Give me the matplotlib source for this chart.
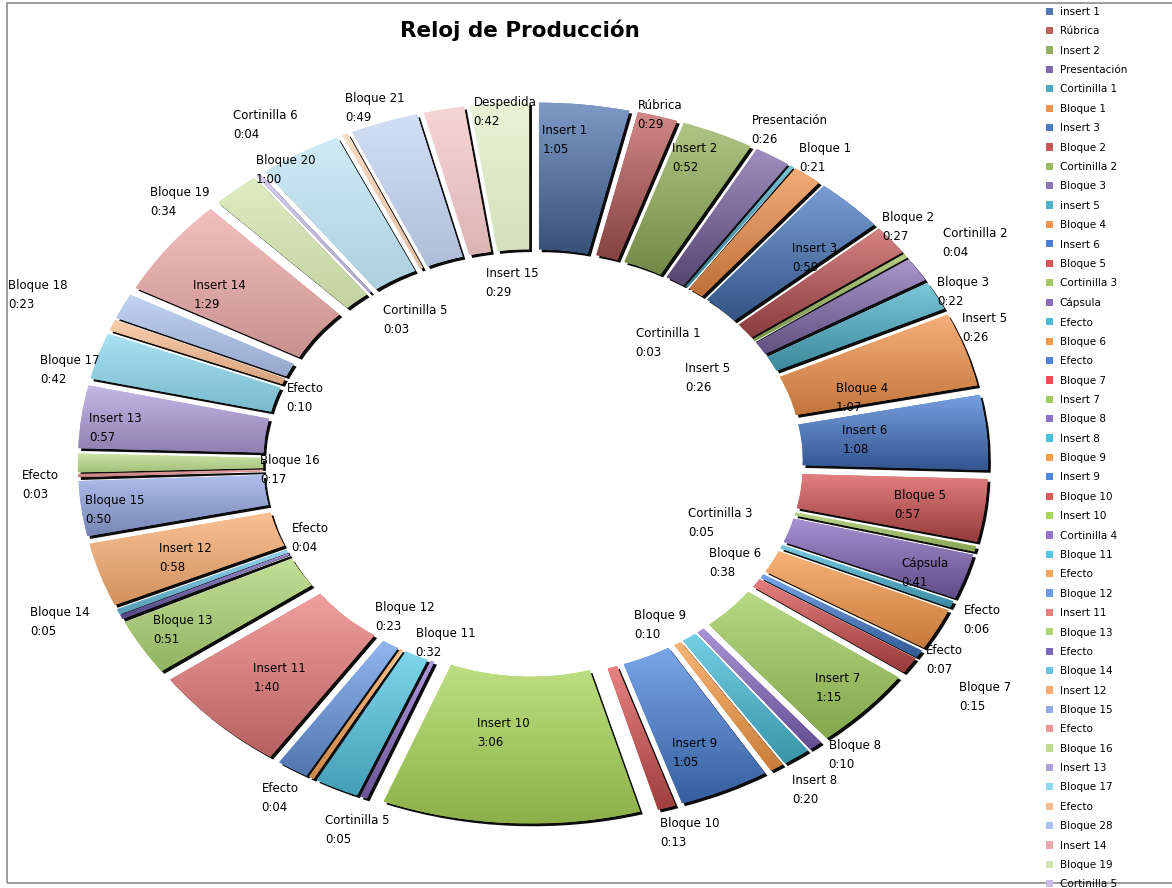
import numpy as np
import matplotlib
matplotlib.use("Agg")
import matplotlib.pyplot as plt
from matplotlib.patches import Patch, Rectangle
from matplotlib import patheffects
from matplotlib.colors import to_rgb

# segment names as printed on the data labels
label_names = ["Insert 1", "Rúbrica", "Insert 2", "Presentación", "Cortinilla 1",
               "Bloque 1", "Insert 3", "Bloque 2", "Cortinilla 2", "Bloque 3",
               "Insert 5", "Bloque 4", "Insert 6", "Bloque 5", "Cortinilla 3",
               "Cápsula", "Efecto", "Bloque 6", "Efecto", "Bloque 7",
               "Insert 7", "Bloque 8", "Insert 8", "Bloque 9", "Insert 9",
               "Bloque 10", "Insert 10", "Cortinilla 5", "Bloque 11", "Efecto",
               "Bloque 12", "Insert 11", "Bloque 13", "Efecto", "Bloque 14",
               "Insert 12", "Bloque 15", "Efecto", "Bloque 16", "Insert 13",
               "Bloque 17", "Efecto", "Bloque 18", "Insert 14", "Bloque 19",
               "Cortinilla 5", "Bloque 20", "Cortinilla 6", "Bloque 21", "Insert 15",
               "Despedida"]

# names as they appear in the legend
legend_names = ["insert 1", "Rúbrica", "Insert 2", "Presentación", "Cortinilla 1",
                "Bloque 1", "Insert 3", "Bloque 2", "Cortinilla 2", "Bloque 3",
                "insert 5", "Bloque 4", "Insert 6", "Bloque 5", "Cortinilla 3",
                "Cápsula", "Efecto", "Bloque 6", "Efecto", "Bloque 7",
                "Insert 7", "Bloque 8", "Insert 8", "Bloque 9", "Insert 9",
                "Bloque 10", "Insert 10", "Cortinilla 4", "Bloque 11", "Efecto",
                "Bloque 12", "Insert 11", "Bloque 13", "Efecto", "Bloque 14",
                "Insert 12", "Bloque 15", "Efecto", "Bloque 16", "Insert 13",
                "Bloque 17", "Efecto", "Bloque 28", "Insert 14", "Bloque 19",
                "Cortinilla 5", "Bloque 20", "Cortinilla 6", "Bloque 21", "Insert 15",
                "Despedida"]

# durations in seconds
seconds = [65, 29, 52, 26, 3, 21, 50, 27, 4, 22,
           26, 67, 68, 57, 5, 41, 6, 38, 7, 15,
           75, 10, 20, 10, 65, 13, 186, 5, 32, 4,
           23, 100, 51, 4, 5, 58, 50, 3, 17, 57,
           42, 10, 23, 89, 34, 3, 60, 4, 49, 29,
           42]

colors = ["#5478B4", "#C0605E", "#94B25A", "#8068A8", "#4AAAC4", "#F0904A",
          "#4C7CC4", "#C8585A", "#9ABA5C", "#8A74B8", "#4EB4CC", "#F4944C",
          "#4A7ED4", "#D85456", "#A4C864", "#8A6CC4", "#4CB8D8", "#F6984A",
          "#4A84DC", "#DC5454", "#A0CC5C", "#8C70CC", "#48C0DC", "#F89C48",
          "#4C88E2", "#E05858", "#A8D458", "#9476D0", "#54C8E6", "#F8A458",
          "#6C9CE8", "#EC7E7E", "#AED474", "#7A68C0", "#6CC4E4", "#F8AC70",
          "#94A8E4", "#EE9494", "#BCDC8C", "#B0A0DC", "#8CD8EE", "#F8BC90",
          "#AEC4EE", "#EEAAAA", "#D4E6AE", "#C8BCE6", "#BEE4F4", "#F8D0B0",
          "#C4D4F2", "#F4C8C8", "#E2EEC8"]

# label placement: distance from centre (pie units) and angle nudge (deg)
lab_r = [1.016, 1.136, 1.037, 1.223, 0.504, 1.20, 0.950, 1.189, 1.296, 1.194,
         1.199, 0.841, 0.827, 0.969, 0.501, 1.032, 1.218, 0.591, 1.194, 1.340,
         1.034, 1.215, 1.241, 0.598, 0.994, 1.224, 0.849, 1.230, 0.605, 1.223,
         0.578, 0.921, 1.014, 0.601, 1.275, 0.913, 1.048, 1.225, 0.603, 1.043,
         1.185, 0.601, 1.337, 0.939, 1.199, 0.535, 1.105, 1.251, 1.180, 0.567,
         1.102]
lab_da = [-2.0, 0.2, -1.2, -0.4, 7.0, 0.1, 3.3, -0.3, 2.9, 5.8,
          7.0, 4.4, 0.0, 0.2, 8.2, 1.1, 0.7, 4.5, -0.8, -1.0,
          -0.2, -2.7, 1.1, 0.6, 1.0, -1.5, 2.2, -1.1, -4.5, 1.7,
          1.5, -1.1, -0.3, 2.3, 1.4, -1.0, -0.8, -1.2, -2.1, -1.4,
          -3.1, -2.7, -2.6, -2.9, -6.2, 3.9, -3.0, -7.7, -0.3, 6.0,
          0.6]
# Insert 5 is labelled twice in the original
extra_labels = [(10, 0.509, -3.8)]


def fmt(s):
    return "{}:{:02d}".format(s // 60, s % 60)


fig = plt.figure(figsize=(11.72, 8.88), dpi=100)
ax = fig.add_axes([0, 0, 1, 1])

wedges, _ = ax.pie(seconds, colors=colors, startangle=90, counterclock=False,
                   explode=[0.13] * len(seconds), radius=1.0,
                   wedgeprops=dict(width=0.46, linewidth=0))

for w, c in zip(wedges, colors):
    w.set_path_effects([patheffects.SimplePatchShadow(offset=(2, -2), shadow_rgbFace="black", alpha=0.95),
                        patheffects.Normal()])
    rgb = np.array(to_rgb(c))
    lum = rgb @ np.array([0.3, 0.59, 0.11])
    top = rgb + (1 - rgb) * 0.25
    bot = rgb * (1 - 0.6 * (1 - lum))
    grad = np.linspace(top, bot, 64)[:, None, :]
    ext = w.get_path().get_extents()
    im = ax.imshow(grad, extent=[ext.x0, ext.x1, ext.y0, ext.y1], aspect="auto",
                   interpolation="bilinear", zorder=3)
    im.set_clip_path(w)

ax.set_aspect("auto")
ax.set_xlim(-1.323, 1.586)
ax.set_ylim(-1.332, 1.451)
ax.axis("off")

mid = (np.cumsum(seconds) - np.array(seconds) / 2) / sum(seconds) * 360
placements = [(i, lab_r[i], lab_da[i]) for i in range(len(seconds))] + extra_labels
for i, r, da in placements:
    phi = np.radians(mid[i] + da)
    ax.text(r * np.sin(phi), r * np.cos(phi), label_names[i] + "\n" + fmt(seconds[i]),
            ha="center", va="center", multialignment="left", fontsize=8.5,
            linespacing=1.6, zorder=5)

fig.text(520 / 1172, 1 - 30 / 888, "Reloj de Producción", ha="center", va="center",
         fontsize=15.5, fontweight="bold")

handles = [Patch(facecolor=c, edgecolor="none") for c in colors]
fig.legend(handles, legend_names, loc="upper left", bbox_to_anchor=(1046 / 1172, 1 - 7 / 888),
           frameon=False, fontsize=7.5, handlelength=0.7, handleheight=0.7,
           handletextpad=0.6, labelspacing=0.9, borderpad=0, borderaxespad=0)

fig.add_artist(Rectangle((7 / 1172, 5 / 888), 1.0, 880 / 888, transform=fig.transFigure,
                         fill=False, edgecolor="#8c8c8c", linewidth=1.2))

fig.savefig("out.png", dpi=100)
